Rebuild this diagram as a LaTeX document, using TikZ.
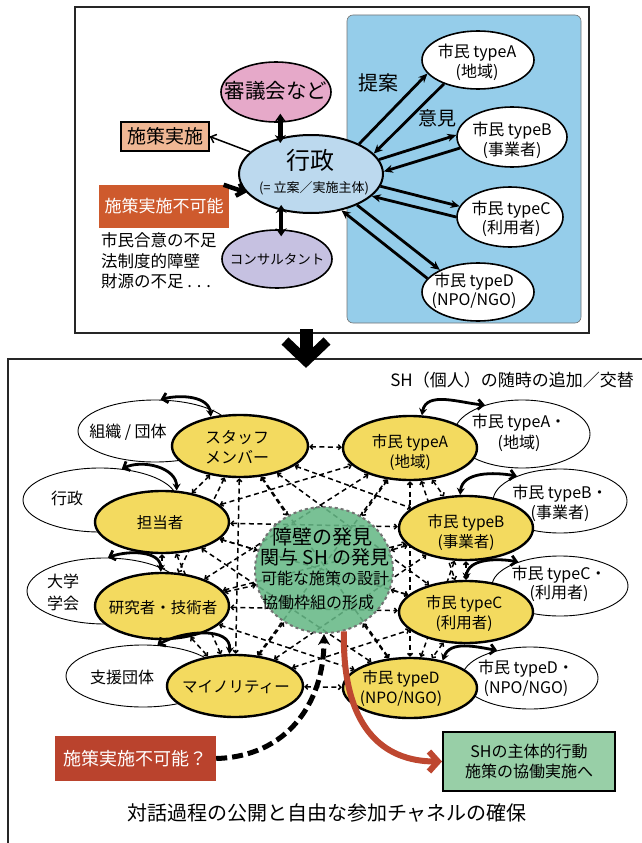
\documentclass[tikz,border=0pt]{standalone}
\usepackage{fontspec}
\setmainfont{Noto Sans CJK JP}
\usetikzlibrary{shapes.geometric,arrows.meta,calc}
\pgfdeclarelayer{back}
\pgfsetlayers{back,main}
\newcommand\fsz[2]{\fontsize{#1}{#2}\selectfont}
\definecolor{skyb}{HTML}{95CDEA}
\definecolor{gyob}{HTML}{BCD9EE}
\definecolor{pinkc}{HTML}{E6A9C9}
\definecolor{lavc}{HTML}{C6C1E1}
\definecolor{salc}{HTML}{F0B794}
\definecolor{orgc}{HTML}{CE5A2D}
\definecolor{yelc}{HTML}{F3DA5F}
\definecolor{grnc}{HTML}{66B886}
\definecolor{gboxc}{HTML}{98CFA7}
\definecolor{redc}{HTML}{BA432D}
\definecolor{reda}{HTML}{BE4730}
\begin{document}
\begin{tikzpicture}[x=1pt,y=-1pt,
  panel/.style={draw=black!85,line width=1.4},
  ell/.style={ellipse,draw,inner sep=0pt},
  topell/.style={ell,line width=1.6},
  whell/.style={ell,fill=white,line width=0.9},
  yell/.style={ell,fill=yelc,line width=2.4},
  txt/.style={inner sep=0pt,align=center},
  tk/.style={line width=2.8,-{Stealth[length=9pt,width=8pt]}},
  dbl/.style={line width=4.5,{Stealth[length=8pt,width=11pt]}-{Stealth[length=8pt,width=11pt]}},
  mesh/.style={line width=1.5,dash pattern=on 5pt off 3.5pt,{Straight Barb[length=2.5pt,width=5pt]}-{Straight Barb[length=2.5pt,width=5pt]}},
  curv/.style={line width=2.8,{Straight Barb[length=5pt,width=10pt]}-{Stealth[length=7pt,width=8pt]}}
]
\useasboundingbox (0,0) rectangle (642,843);
% ---------- top panel ----------
\draw[panel] (75,7) rectangle (589,333);
\draw[fill=skyb,draw=black!55,line width=0.6,rounded corners=6] (347,15) rectangle (581,323);

\node[topell,fill=pinkc,minimum width=110,minimum height=60] (shingi) at (276,92) {};
\node[topell,fill=gyob,line width=2,minimum width=144,minimum height=78] (gyo) at (311,174) {};
\node[topell,fill=lavc,minimum width=110,minimum height=58] (consult) at (277,259) {};
\node[topell,fill=white,minimum width=112,minimum height=58] (cA) at (478,60) {};
\node[topell,fill=white,minimum width=110,minimum height=60] (cB) at (512,137) {};
\node[topell,fill=white,minimum width=106,minimum height=60] (cC) at (510,217) {};
\node[topell,fill=white,minimum width=112,minimum height=58] (cD) at (478,292) {};

\node[txt,font=\fsz{20.5}{25}] (tshingi) at (276,91) {審議会など};
\node[txt,font=\fsz{24}{28}] (tgyo) at (310,160) {行政};
\node[txt,font=\fsz{13}{16}] (tgyo2) at (314,188) {(= 立案／実施主体)};
\node[txt,font=\fsz{13.5}{16}] (tcons) at (277,259) {コンサルタント};
\node[txt,font=\fsz{16}{20}] (tcA) at (477,62) {市民 typeA\\(地域)};
\node[txt,font=\fsz{16}{20}] (tcB) at (512,140) {市民 typeB\\(事業者)};
\node[txt,font=\fsz{16}{19}] (tcC) at (511,219) {市民 typeC\\(利用者)};
\node[txt,font=\fsz{16}{19}] (tcD) at (474,291) {市民 typeD\\(NPO/NGO)};
\node[txt,font=\fsz{20}{24}] (teian) at (378,83) {提案};
\node[txt,font=\fsz{19}{23}] (iken) at (437,118) {意見};

\node[draw,fill=salc,line width=1.2,minimum width=88,minimum height=29,inner sep=0pt,font=\fsz{19}{22}] (shisaku) at (165,136.5) {施策実施};
\node[fill=orgc,text=white,minimum width=130,minimum height=43,inner sep=0pt,font=\fsz{17}{20}] (fukano) at (164,206.5) {施策実施不可能};
\node[txt,align=left,anchor=west,font=\fsz{16.5}{20.5}] (reasons) at (101,261) {市民合意の不足\\法制度的障壁\\財源の不足 . . .};

% top connectors
\draw[dbl,shorten <=-9,shorten >=-9] (shingi.-82) -- (shingi.-82 |- gyo.north);
\draw[dbl,shorten <=-9,shorten >=-7] (gyo.south -| consult.82) -- (consult.82);
\draw[line width=1.5,-{Straight Barb[length=5pt,width=9pt]}] (gyo.160) -- (shisaku.east);
\draw[line width=4.5,-{Straight Barb[length=6pt,width=13pt]}] (fukano.20) -- (gyo.196);
\draw[tk] (gyo.32) -- (cA.195);
\draw[tk] (cA.215) -- (gyo.18);
\draw[tk] (gyo.12) -- (cB.178);
\draw[tk] (cB.192) -- (gyo.2);
\draw[tk] (gyo.-10) -- (cC.168);
\draw[tk] (cC.180) -- (gyo.-20);
\draw[tk] (gyo.-34) -- (cD.150);
\draw[tk] (cD.165) -- (gyo.-50);

% ---------- bottom panel ----------
\draw[panel] (650,359) -- (8,359) -- (8,850);
\draw[line width=13] (306,329) -- (306,354);
\draw[line width=10] (285,341) -- (306,361) -- (327,341);

\node[txt,anchor=east,font=\fsz{17}{20}] (title) at (634,380) {SH（個人）の随時の追加／交替};
\node[txt,font=\fsz{20}{24}] (caption) at (327,813) {対話過程の公開と自由な参加チャネルの確保};

% white ellipses
\node[whell,minimum width=154,minimum height=62] (w1) at (155,431) {};
\node[whell,minimum width=154,minimum height=64] (w2) at (100,500) {};
\node[whell,minimum width=156,minimum height=66] (w3) at (105,591) {};
\node[whell,minimum width=154,minimum height=62] (w4) at (143,676) {};
\node[whell,minimum width=136,minimum height=68] (wA) at (522,434) {};
\node[whell,minimum width=134,minimum height=64] (wB) at (560,501) {};
\node[whell,minimum width=136,minimum height=60] (wC) at (560,586) {};
\node[whell,minimum width=136,minimum height=62] (wD) at (530,678) {};
\node[txt,font=\fsz{16}{20}] at (128,432) {組織 / 団体};
\node[txt,font=\fsz{16}{20}] at (67,498) {行政};
\node[txt,font=\fsz{16}{22}] at (63,592) {大学\\学会};
\node[txt,font=\fsz{16}{20}] at (122,677) {支援団体};
\node[txt,font=\fsz{16}{21}] at (519,433) {市民 typeA・\\(地域)};
\node[txt,font=\fsz{16}{20}] at (560,503) {市民 typeB・\\(事業者)};
\node[txt,font=\fsz{16}{19}] at (559,584) {市民 typeC・\\(利用者)};
\node[txt,font=\fsz{16}{20}] at (526,678) {市民 typeD・\\(NPO/NGO)};

% yellow ellipses
\node[yell,minimum width=136,minimum height=62] (y1) at (240,446) {};
\node[yell,minimum width=134,minimum height=62] (y2) at (162,522) {};
\node[yell,minimum width=134,minimum height=66] (y3) at (162,606) {};
\node[yell,minimum width=136,minimum height=62] (y4) at (235,686) {};
\node[yell,minimum width=134,minimum height=64] (y5) at (410,448) {};
\node[yell,minimum width=134,minimum height=64] (y6) at (466,528) {};
\node[yell,minimum width=134,minimum height=62] (y7) at (466,612) {};
\node[yell,minimum width=134,minimum height=60] (y8) at (410,688) {};
\node[txt,font=\fsz{16}{20}] at (237,447) {スタッフ\\メンバー};
\node[txt,font=\fsz{15.5}{19}] at (160,523) {担当者};
\node[txt,font=\fsz{15.5}{19}] at (163,608) {研究者・技術者};
\node[txt,font=\fsz{15.5}{19}] at (236,687) {マイノリティー};
\node[txt,font=\fsz{15.5}{20}] at (410,452) {市民 typeA\\(地域)};
\node[txt,font=\fsz{15.5}{20}] at (466,532) {市民 typeB\\(事業者)};
\node[txt,font=\fsz{15.5}{20}] at (464,613) {市民 typeC\\(利用者)};
\node[txt,font=\fsz{15.5}{20}] at (401,688) {市民 typeD\\(NPO/NGO)};

% green circle
\node[ell,fill=grnc,fill opacity=0.88,draw=black!55,dashed,line width=2,minimum width=138,minimum height=126] (gc) at (324,570) {};
\node[txt,font=\fsz{20}{22}] at (322,537) {障壁の発見};
\node[txt,font=\fsz{19}{22}] at (325,557) {関与 SH の発見};
\node[txt,font=\fsz{16}{20}] at (325,578) {可能な施策の設計};
\node[txt,font=\fsz{16}{20}] at (318,602) {協働枠組の形成};

% mesh of dashed connectors
\begin{pgfonlayer}{back}
\foreach \i in {1,...,7}{
  \pgfmathtruncatemacro\ns{\i+1}
  \foreach \j in {\ns,...,8}{\draw[mesh] (y\i) -- (y\j);}
}
\foreach \i in {1,...,8}{\draw[mesh] (y\i) -- (gc);}
\end{pgfonlayer}

% curved arrows white <-> yellow
\draw[curv] (w1.80) to[out=15,in=95] (y1.135);
\draw[curv] (w2.55) to[out=25,in=90] (y2.65);
\draw[curv] (w3.85) to[out=20,in=90] (y3.92);
\draw[curv] (w4.65) to[out=30,in=85] (y4.100);
\draw[curv] (wA.142) to[out=175,in=80] (y5.70);
\draw[curv] (wB.150) to[out=170,in=85] (y6.100);
\draw[curv] (wC.150) to[out=170,in=85] (y7.90);
\draw[curv] (wD.140) to[out=170,in=70] (y8.40);

% result boxes
\node[draw,fill=gboxc,line width=2,minimum width=172,minimum height=59,inner sep=0pt,align=center,font=\fsz{16}{20}] (gbox) at (529,761.5) {SHの主体的行動\\施策の協働実施へ};
\node[fill=redc,text=white,minimum width=161,minimum height=45,inner sep=0pt,font=\fsz{18}{21}] (fk2) at (135.5,758.5) {施策実施不可能？};

\draw[reda,line width=6,-{Straight Barb[length=9pt,width=20pt]}] (gc.-72) .. controls +(-2,95) and +(-60,0) .. (gbox.west);
\draw[line width=5,dash pattern=on 11pt off 5pt,-{Stealth[length=11pt,width=12pt]}] (fk2.east) .. controls +(70,-2) and +(0,70) .. (gc.south);
\end{tikzpicture}
\end{document}
